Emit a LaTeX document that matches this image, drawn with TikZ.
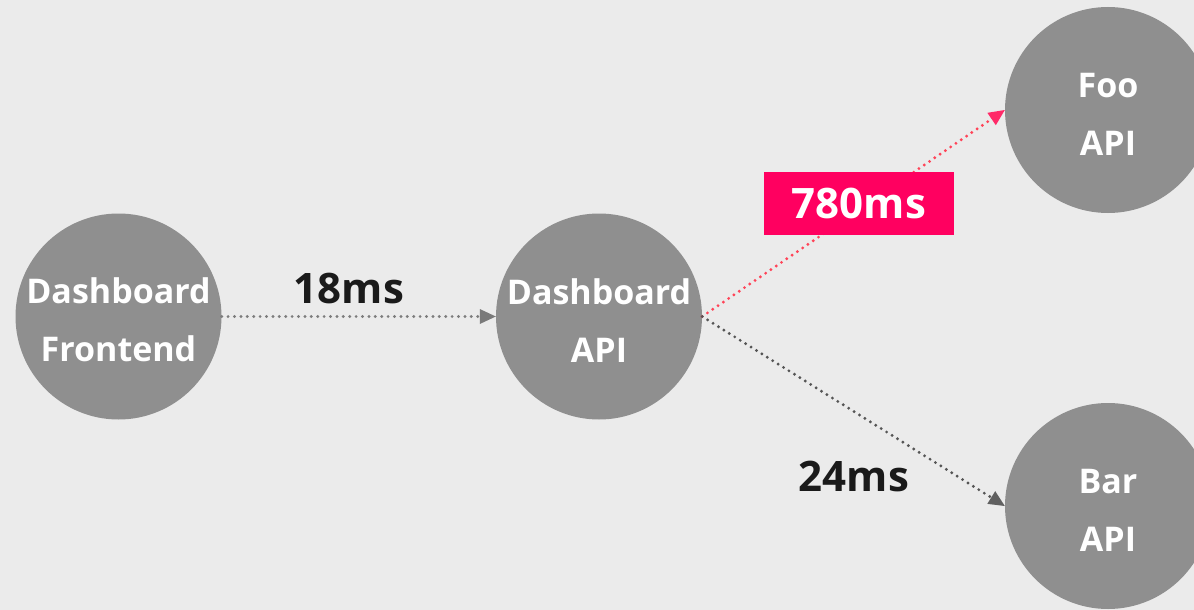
\documentclass[tikz,border=0pt]{standalone}
\usepackage{fontspec}
\setmainfont{Open Sans}
\usetikzlibrary{arrows.meta}
\definecolor{bgc}{HTML}{EBEBEB}
\definecolor{nodec}{HTML}{8F8F8F}
\definecolor{lblc}{HTML}{1A1A1A}
\definecolor{hotc}{HTML}{FF0060}
\definecolor{reddot}{HTML}{FF4458}
\definecolor{redtip}{HTML}{FF2A68}
\definecolor{darkdot}{HTML}{555555}
\definecolor{darktip}{HTML}{606060}
\definecolor{lightdot}{HTML}{7C7C7C}
\definecolor{lighttip}{HTML}{7A7A7A}
\newcommand{\firstline}{\rule{0pt}{33pt}}
\tikzset{
  svc/.style={circle, fill=nodec, minimum size=206pt, inner sep=0pt, text=white,
    align=center, font=\fontsize{34}{58}\selectfont\bfseries},
  lat/.style={text=lblc, inner sep=0pt, font=\fontsize{42}{48}\selectfont\bfseries},
  hotlat/.style={fill=hotc, text=white, minimum width=190pt, minimum height=63pt,
    inner sep=0pt, font=\fontsize{42}{48}\selectfont\bfseries},
  dotline/.style={line width=3.2pt, line cap=round, dash pattern=on 0pt off 6.4pt},
}
\begin{document}
\begin{tikzpicture}[x=1pt, y=-1pt]
\fill[bgc] (0,0) rectangle (1194,610);
\useasboundingbox (0,0) rectangle (1194,610);
\node[svc] (fe) at (118.5,316.5) {\firstline Dashboard\\Frontend};
\node[svc] (dapi) at (599,316.5) {\firstline Dashboard\\API};
\node[svc] (foo) at (1108,110) {\firstline Foo\\API};
\node[svc] (bar) at (1108,506) {\firstline Bar\\API};
\draw[dotline, draw=lightdot, -{Triangle[length=16pt,width=15pt,fill=lighttip,line width=0pt]}] (fe.east) -- (dapi.west);
\draw[dotline, draw=reddot, -{Triangle[length=16pt,width=15pt,fill=redtip,line width=0pt]}] (dapi.east) -- (foo.west);
\draw[dotline, draw=darkdot, -{Triangle[length=16pt,width=15pt,fill=darktip,line width=0pt]}] (dapi.east) -- (bar.west);
\node[lat] (l18) at (349,289) {18ms};
\node[hotlat] (l780) at (859,203.5) {780ms};
\node[lat] (l24) at (854,476) {24ms};
\end{tikzpicture}
\end{document}
